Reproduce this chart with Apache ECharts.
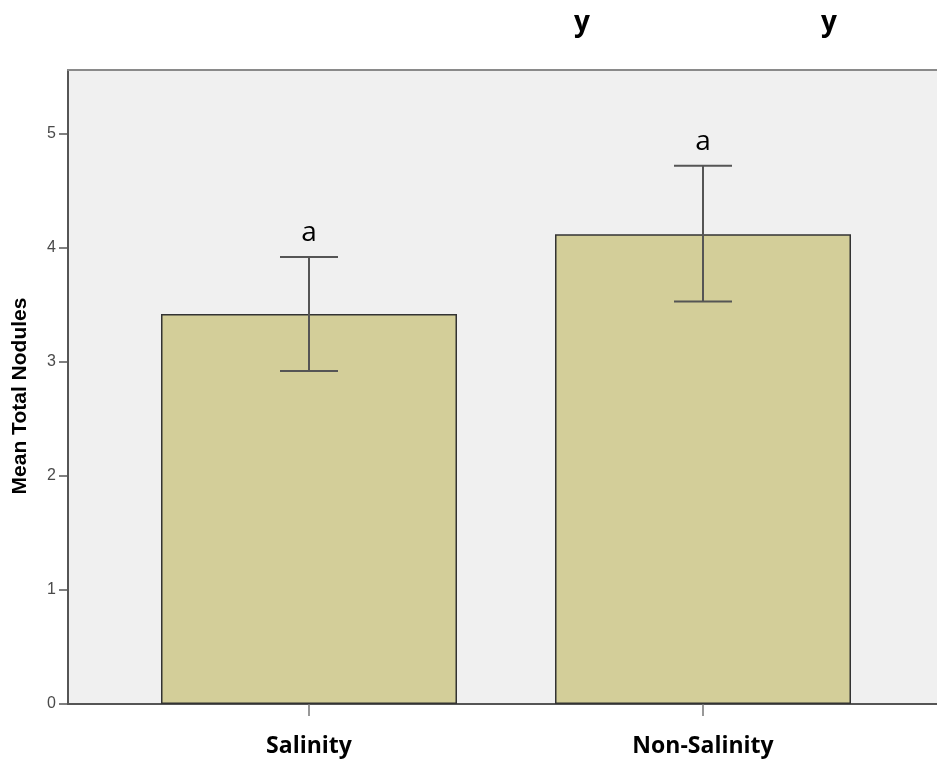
<!DOCTYPE html>
<html>
<head>
<meta charset="utf-8">
<script src="https://cdn.jsdelivr.net/npm/echarts@6/dist/echarts.min.js"></script>
<style>
html,body{margin:0;padding:0;background:#fff;}
#chart{width:937px;height:768px;}
</style>
</head>
<body>
<div id="chart"></div>
<script>
// Mean total nodules per treatment, with error bar limits and group letters
const categories = ['Salinity', 'Non-Salinity'];
const meanValues = [3.42, 4.12];
const errLow = [2.92, 3.53];
const errHigh = [3.92, 4.72];
const groupLetters = ['a', 'a'];
const yTicks = [0, 1, 2, 3, 4, 5];
const yMax = 5.56;

const chart = echarts.init(document.getElementById('chart'), null, { renderer: 'canvas' });

const errorData = categories.map((c, i) => [i, errLow[i], errHigh[i], groupLetters[i]]);

chart.setOption({
  animation: false,
  graphic: [
    { type: 'text', left: 574, top: 9, style: { text: 'y', font: 'bold 28px "Open Sans"', fill: '#000' } },
    { type: 'text', left: 821, top: 9, style: { text: 'y', font: 'bold 28px "Open Sans"', fill: '#000' } }
  ],
  grid: [
    // bar area: two category bands
    { left: 112, right: 37, top: 70, bottom: 64, show: false, outerBoundsMode: 'none', containLabel: false },
    // panel frame and background
    { left: 68, right: -10, top: 70, bottom: 64, show: true, backgroundColor: '#f0f0f0', borderWidth: 0, outerBoundsMode: 'none', containLabel: false }
  ],
  xAxis: [
    {
      type: 'category', gridIndex: 0, data: categories,
      axisLine: { show: false },
      axisTick: { show: true, alignWithLabel: true, length: 12, lineStyle: { color: '#777', width: 1.5 } },
      axisLabel: { margin: 31, color: '#000', fontFamily: '"Open Sans"', fontWeight: 'bold', fontSize: 23 },
      splitLine: { show: false }
    },
    {
      type: 'value', gridIndex: 1, position: 'bottom', min: 0, max: 1,
      axisLine: { show: true, onZero: false, lineStyle: { color: '#555', width: 2 } },
      axisTick: { show: false }, axisLabel: { show: false }, splitLine: { show: false }
    },
    {
      type: 'value', gridIndex: 1, position: 'top', min: 0, max: 1,
      axisLine: { show: true, onZero: false, lineStyle: { color: '#8a8a8a', width: 2 } },
      axisTick: { show: false }, axisLabel: { show: false }, splitLine: { show: false }
    }
  ],
  yAxis: [
    {
      type: 'value', gridIndex: 0, min: 0, max: yMax, interval: 1,
      axisLine: { show: false }, axisTick: { show: false }, axisLabel: { show: false }, splitLine: { show: false }
    },
    {
      type: 'value', gridIndex: 1, min: 0, max: yMax, interval: 1,
      name: 'Mean Total Nodules', nameLocation: 'middle', nameGap: 37, nameRotate: 90,
      nameTextStyle: { color: '#000', fontFamily: '"Liberation Sans"', fontWeight: 'bold', fontSize: 21, padding: [0, 18, 0, 0] },
      axisLine: { show: true, onZero: false, lineStyle: { color: '#555', width: 2 } },
      axisTick: { show: true, length: 9, customValues: yTicks, lineStyle: { color: '#555', width: 1.5 } },
      axisLabel: {
        margin: 12, customValues: yTicks, color: '#4a4a4a', fontFamily: '"Liberation Sans"', fontSize: 16
      },
      splitLine: { show: false }
    }
  ],
  series: [
    {
      type: 'bar', xAxisIndex: 0, yAxisIndex: 0,
      data: meanValues, barWidth: 296,
      itemStyle: { color: '#d3ce99', borderColor: '#333', borderWidth: 1.5 },
      z: 2
    },
    {
      type: 'custom', xAxisIndex: 0, yAxisIndex: 0,
      data: errorData, z: 5,
      renderItem: function (params, api) {
        const x = api.value(0);
        const lo = api.coord([x, api.value(1)]);
        const hi = api.coord([x, api.value(2)]);
        const half = 29;
        const stroke = { stroke: '#555', lineWidth: 2 };
        return {
          type: 'group',
          children: [
            { type: 'line', shape: { x1: hi[0], y1: hi[1], x2: lo[0], y2: lo[1] }, style: stroke },
            { type: 'line', shape: { x1: hi[0] - half, y1: hi[1], x2: hi[0] + half, y2: hi[1] }, style: stroke },
            { type: 'line', shape: { x1: lo[0] - half, y1: lo[1], x2: lo[0] + half, y2: lo[1] }, style: stroke },
            {
              type: 'text',
              style: {
                text: api.value(3), x: hi[0], y: hi[1] - 24,
                align: 'center', verticalAlign: 'middle',
                font: '28px "Open Sans"', fill: '#000'
              }
            }
          ]
        };
      }
    }
  ]
});
</script>
</body>
</html>
